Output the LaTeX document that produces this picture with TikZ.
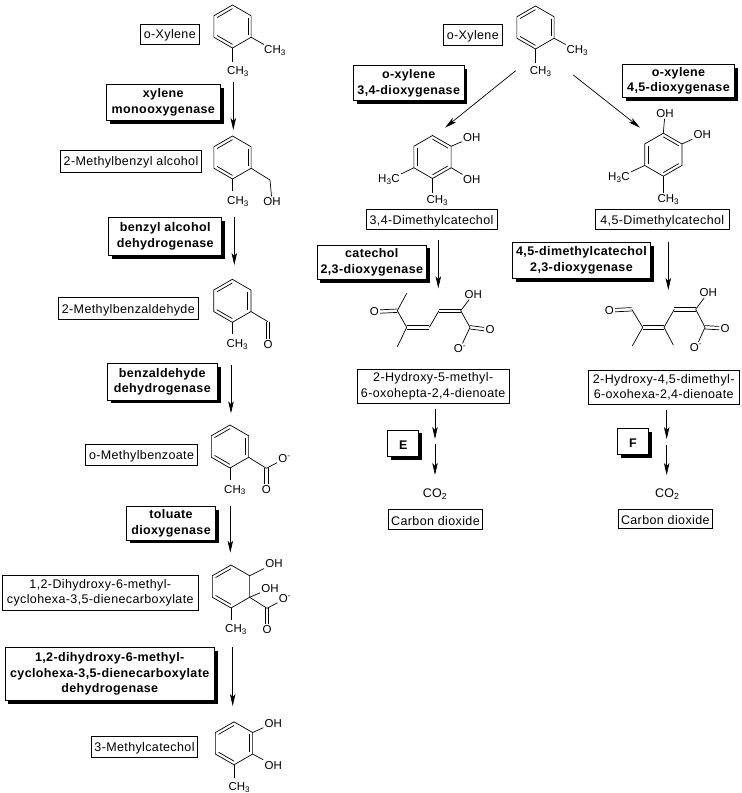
\documentclass[tikz,border=0pt]{standalone}
\usepackage{fontspec}
\setmainfont{Liberation Sans}
\newfontfamily\widefont[LetterSpace=3]{Liberation Sans}
\newfontfamily\heavyfont[LetterSpace=3]{Liberation Sans Bold}
\usetikzlibrary{calc}
\usetikzlibrary{shadows}
\usetikzlibrary{arrows.meta}

\begin{document}
\begin{tikzpicture}[x=1pt, y=-1pt, line width=0.7pt]
        % Define styles for shapes
        \tikzstyle{namebox} = [draw, fill=white, align=center, inner sep=0pt, font=\widefont\fontsize{12.5}{15.5}\selectfont, execute at begin node={\rule{0pt}{12pt}}]
        \tikzstyle{enzbox} = [draw, fill=white, align=center, inner sep=0pt, font=\heavyfont\fontsize{12.5}{15.5}\selectfont, execute at begin node={\rule{0pt}{12pt}}, general shadow={fill=black, shadow xshift=3.3pt, shadow yshift=-3.3pt}]
        \tikzstyle{atom} = [inner sep=1pt, yshift=-0.8pt, font=\fontsize{11.5}{13}\selectfont]
        \tikzstyle{reaction} = [-{Stealth[length=12pt, width=5.5pt, inset=3pt]}]
        \useasboundingbox (0,0) rectangle (742,793);

        % Draw rings
        \foreach \ringname/\cx/\cy in {xylA/232.5/26.5, mba/232.5/157.5, mbd/232.3/300.8, mbz/230/446.5, dhc/231/586.5, mct/234/743.3, xylB/535.5/27.5, dmcA/432.5/157, dmcB/663.3/154.7} {
            \coordinate (\ringname c) at (\cx,\cy);
            \foreach \i/\a in {1/270, 2/330, 3/30, 4/90, 5/150, 6/210} {
                \coordinate (\ringname\i) at ($(\ringname c)+(\a:21.5)$);
            }
            \draw (\ringname1) -- (\ringname2) -- (\ringname3) -- (\ringname4) -- (\ringname5) -- (\ringname6) -- cycle;
        }
        \foreach \ringname/\a/\b in {xylA/6/1, xylA/2/3, xylA/4/5, mba/6/1, mba/2/3, mba/4/5, mbd/6/1, mbd/2/3, mbd/4/5, mbz/6/1, mbz/2/3, mbz/4/5, dhc/6/1, dhc/4/5, mct/6/1, mct/2/3, mct/4/5, xylB/6/1, xylB/2/3, xylB/4/5, dmcA/1/2, dmcA/3/4, dmcA/5/6, dmcB/1/2, dmcB/3/4, dmcB/5/6} {
            \draw ($(\ringname\a)!0.17!(\ringname c)$) -- ($(\ringname\b)!0.17!(\ringname c)$);
        }

        % Atom labels, left column
        \node[atom] (xylAme1) at (275,50) {CH\textsubscript{3}};
        \node[atom] (xylAme2) at (238,71) {CH\textsubscript{3}};
        \node[atom] (mbame) at (238,201) {CH\textsubscript{3}};
        \node[atom] (mbaoh) at (272,201) {OH};
        \node[atom] (mbdme) at (237.3,344) {CH\textsubscript{3}};
        \node[atom] (mbdo) at (268,344) {O};
        \node[atom] (mbzme) at (235,489.3) {CH\textsubscript{3}};
        \node[atom] (mbzo) at (266.3,488.7) {O};
        \node[atom] (mbzom) at (284.5,458) {O\textsuperscript{-}};
        \node[atom] (dhcoh1) at (274,562.7) {OH};
        \node[atom] (dhcoh2) at (270,587.7) {OH};
        \node[atom] (dhcom) at (285,598) {O\textsuperscript{-}};
        \node[atom] (dhco) at (267,629) {O};
        \node[atom] (dhcme) at (236,629) {CH\textsubscript{3}};
        \node[atom] (mctoh1) at (273.3,722.3) {OH};
        \node[atom] (mctoh2) at (273.3,764.3) {OH};
        \node[atom] (mctme) at (239.3,786.7) {CH\textsubscript{3}};

        % Atom labels, right columns
        \node[atom] (xylBme1) at (577.3,50) {CH\textsubscript{3}};
        \node[atom] (xylBme2) at (540.7,70.7) {CH\textsubscript{3}};
        \node[atom] (dmcAoh1) at (471.7,136.7) {OH};
        \node[atom] (dmcAoh2) at (471.7,179) {OH};
        \node[atom] (dmcAme1) at (389,179) {H\textsubscript{3}C};
        \node[atom] (dmcAme2) at (437.3,200) {CH\textsubscript{3}};
        \node[atom] (dmcBoh1) at (665,112.7) {OH};
        \node[atom] (dmcBoh2) at (702.3,134) {OH};
        \node[atom] (dmcBme1) at (619,176.7) {H\textsubscript{3}C};
        \node[atom] (dmcBme2) at (668.3,199) {CH\textsubscript{3}};
        \node[atom] (ketoA) at (374.3,310.7) {O};
        \node[atom] (ohA) at (473.3,293.3) {OH};
        \node[atom] (oxoA) at (490,328.3) {O};
        \node[atom] (omA) at (460,348) {O\textsuperscript{-}};
        \node[atom] (ketoB) at (609.3,309.3) {O};
        \node[atom] (ohB) at (708.3,291.7) {OH};
        \node[atom] (oxoB) at (725,327.3) {O};
        \node[atom] (omB) at (696,346.5) {O\textsuperscript{-}};
        \node[atom, font=\widefont\fontsize{12.5}{15}\selectfont] (co2A) at (435,493.5) {CO\textsubscript{2}};
        \node[atom, font=\widefont\fontsize{12.5}{15}\selectfont] (co2B) at (667.3,493.5) {CO\textsubscript{2}};

        % Draw bonds
        \coordinate (mbac) at (270,180);
        \coordinate (mbdk) at (268,321.7);
        \coordinate (mbzk) at (266.3,468.3);
        \coordinate (dhck) at (267,608.3);
        \draw (xylA3) -- (xylAme1);
        \draw (xylA4) -- ++(0,14);
        \draw (mba3) -- (mbac) -- (mbaoh);
        \draw (mba4) -- ++(0,12);
        \draw (mbd3) -- (mbdk);
        \draw (mbd4) -- ++(0,12);
        \draw (mbz3) -- (mbzk) -- (mbzom);
        \draw (mbz4) -- ++(0,12);
        \draw (dhc2) -- (dhcoh1);
        \draw (dhc3) -- (dhcoh2);
        \draw (dhc3) -- (dhck) -- (dhcom);
        \draw (dhc4) -- ++(0,12);
        \draw (mct2) -- (mctoh1);
        \draw (mct3) -- (mctoh2);
        \draw (mct4) -- ++(0,13);
        \draw (xylB3) -- (xylBme1);
        \draw (xylB4) -- ++(0,14);
        \draw (dmcA2) -- (dmcAoh1);
        \draw (dmcA3) -- (dmcAoh2);
        \draw (dmcA5) -- (dmcAme1);
        \draw (dmcA4) -- ++(0,14);
        \draw (dmcB1) -- (dmcBoh1);
        \draw (dmcB2) -- (dmcBoh2);
        \draw (dmcB5) -- (dmcBme1);
        \draw (dmcB4) -- ++(0,17);

        % Draw chains
        \coordinate (ca1) at (397.3,310.7);
        \coordinate (ca2) at (406.7,327.3);
        \coordinate (ca3) at (429.3,327.3);
        \coordinate (ca4) at (439,310.7);
        \coordinate (ca5) at (460.7,310.7);
        \coordinate (ca6) at (470,327.3);
        \draw (ca1) -- (406.7,293.3);
        \draw (ca1) -- (ca2);
        \draw (ca2) -- (397.3,346.7);
        \draw (ca3) -- (ca4);
        \draw (ca5) -- (ohA);
        \draw (ca5) -- (ca6);
        \draw (ca6) -- (omA);
        \coordinate (cb1) at (631.7,309.3);
        \coordinate (cb2) at (642.7,327.3);
        \coordinate (cb3) at (664,327.3);
        \coordinate (cb4) at (674.3,309.3);
        \coordinate (cb5) at (695.7,309.3);
        \coordinate (cb6) at (705,327.3);
        \draw (cb1) -- (cb2);
        \draw (cb2) -- (632.3,346);
        \draw (cb3) -- (673.3,345);
        \draw (cb3) -- (cb4);
        \draw (cb5) -- (ohB);
        \draw (cb5) -- (cb6);
        \draw (cb6) -- (omB);

        % Draw double bonds
        \foreach \p/\q/\dx/\dy in {mbdk/mbdo.north/1.7/0, mbzk/mbzo.north/1.7/0, dhck/dhco.north/1.7/0, ketoA.east/ca1/0/1.7, ca2/ca3/0/1.7, ca4/ca5/0/1.7, ca6/oxoA.west/0/1.7, ketoB.east/cb1/0/1.7, cb2/cb3/0/1.7, cb4/cb5/0/1.7, cb6/oxoB.west/0/1.7} {
            \draw ($(\p)+(\dx,\dy)$) -- ($(\q)+(\dx,\dy)$);
            \draw ($(\p)-(\dx,\dy)$) -- ($(\q)-(\dx,\dy)$);
        }

        % Draw names
        \node[namebox, minimum width=59pt, minimum height=20.3pt] (nxylA) at (169.8,34.2) {o-Xylene};
        \node[namebox, minimum width=141.4pt, minimum height=22.3pt] (nmba) at (131,161.2) {2-Methylbenzyl alcohol};
        \node[namebox, minimum width=140pt, minimum height=22pt] (nmbd) at (128.3,308.3) {2-Methylbenzaldehyde};
        \node[namebox, minimum width=112.4pt, minimum height=21.3pt] (nmbz) at (141.5,454.7) {o-Methylbenzoate};
        \node[namebox, minimum width=196pt, minimum height=34.6pt] (ndhc) at (100.3,593) {1,2-Dihydroxy-6-methyl-\\cyclohexa-3,5-dienecarboxylate};
        \node[namebox, minimum width=106.4pt, minimum height=21pt] (nmct) at (144.5,746.8) {3-Methylcatechol};
        \node[namebox, minimum width=59pt, minimum height=21pt] (nxylB) at (472.8,34.5) {o-Xylene};
        \node[namebox, minimum width=131pt, minimum height=20pt] (ndmcA) at (431.5,219.3) {3,4-Dimethylcatechol};
        \node[namebox, minimum width=133.3pt, minimum height=20pt] (ndmcB) at (662.3,219.3) {4,5-Dimethylcatechol};
        \node[namebox, minimum width=151.7pt, minimum height=34pt] (nhmA) at (433.2,386.3) {2-Hydroxy-5-methyl-\\6-oxohepta-2,4-dienoate};
        \node[namebox, minimum width=150.7pt, minimum height=34.3pt] (nhmB) at (663.7,387.2) {2-Hydroxy-4,5-dimethyl-\\6-oxohexa-2,4-dienoate};
        \node[namebox, minimum width=94.4pt, minimum height=20pt] (ncoA) at (435.5,519.3) {Carbon dioxide};
        \node[namebox, minimum width=94pt, minimum height=19pt] (ncoB) at (665.3,518.8) {Carbon dioxide};

        % Draw enzymes
        \node[enzbox, minimum width=114pt, minimum height=36pt] (exmo) at (163.3,102.3) {xylene\\monooxygenase};
        \node[enzbox, minimum width=113pt, minimum height=38.4pt] (ebad) at (165.2,236.5) {benzyl alcohol\\dehydrogenase};
        \node[enzbox, minimum width=110pt, minimum height=36.7pt] (ebzd) at (162.3,381.7) {benzaldehyde\\dehydrogenase};
        \node[enzbox, minimum width=89.4pt, minimum height=33.7pt] (etol) at (171,523.2) {toluate\\dioxygenase};
        \node[enzbox, minimum width=209.3pt, minimum height=53.4pt] (edhd) at (109.7,674) {1,2-dihydroxy-6-methyl-\\cyclohexa-3,5-dienecarboxylate\\dehydrogenase};
        \node[enzbox, minimum width=110.7pt, minimum height=35pt] (exdA) at (408.7,83.2) {o-xylene\\3,4-dioxygenase};
        \node[enzbox, minimum width=112.4pt, minimum height=33pt] (exdB) at (678.5,80.8) {o-xylene\\4,5-dioxygenase};
        \node[enzbox, minimum width=109.7pt, minimum height=34.3pt] (ecdA) at (371.8,262.2) {catechol\\2,3-dioxygenase};
        \node[enzbox, minimum width=138.4pt, minimum height=36pt] (ecdB) at (581.5,260.3) {4,5-dimethylcatechol\\2,3-dioxygenase};
        \node[enzbox, minimum width=31pt, minimum height=26.7pt] (eE) at (403.2,443.3) {E};
        \node[enzbox, minimum width=31.4pt, minimum height=26pt] (eF) at (633,441.3) {F};

        % Draw arrows
        \foreach \arrname/\xa/\ya/\xb/\yb in {r1/233.3/82/233.3/130, r2/234.3/216.7/234.3/265, r3/231/365/231/413.3, r4/230.3/506/230.3/552.7, r5/232.7/647.3/232.7/706, r6/515.7/70.7/445/127.7, r7/573.3/75/640/127.7, r8/438.3/240/438.3/288.3, r9/668.3/241.7/668.3/290, r10/435/409/435/439, r11/435/444/435/475, r12/666.7/410/666.7/439, r13/666.7/445/666.7/475} {
            \coordinate (\arrname s) at (\xa,\ya);
            \coordinate (\arrname e) at (\xb,\yb);
            \draw[reaction] (\arrname s) -- (\arrname e);
        }
\end{tikzpicture}
\end{document}
